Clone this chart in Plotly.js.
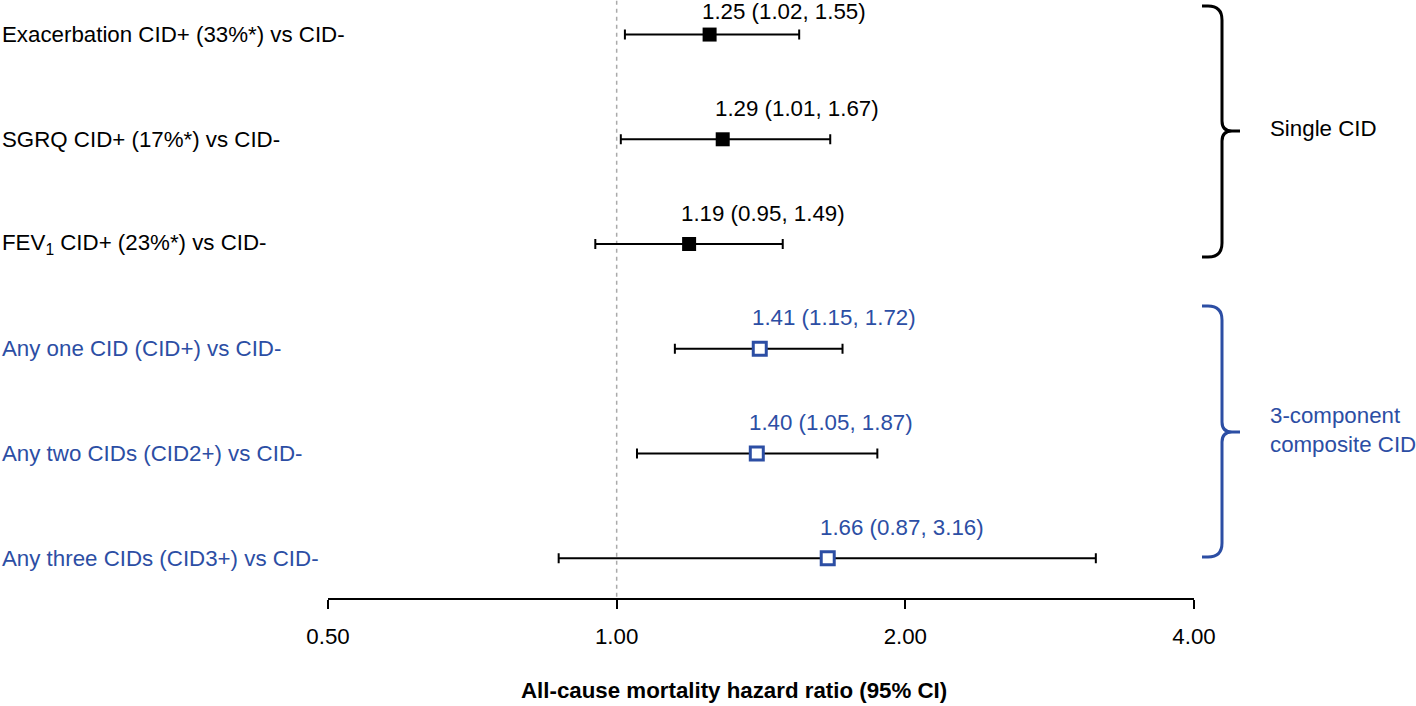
<!DOCTYPE html>
<html>
<head>
<meta charset="utf-8">
<script src="https://cdn.plot.ly/plotly-3.0.1.min.js"></script>
<style>html,body{margin:0;padding:0;background:#fff;}#chart{width:1416px;height:706px;}</style>
</head>
<body>
<div id="chart"></div>
<script>
var rowLabels = [
  'Exacerbation CID+ (33%*) vs CID-',
  'SGRQ CID+ (17%*) vs CID-',
  'FEV<sub>1</sub> CID+ (23%*) vs CID-',
  'Any one CID (CID+) vs CID-',
  'Any two CIDs (CID2+) vs CID-',
  'Any three CIDs (CID3+) vs CID-'
];
var hr   = [1.25, 1.29, 1.19, 1.41, 1.40, 1.66];
var ciLo = [1.02, 1.01, 0.95, 1.15, 1.05, 0.87];
var ciHi = [1.55, 1.67, 1.49, 1.72, 1.87, 3.16];
var group = ['single', 'single', 'single', 'composite', 'composite', 'composite'];
var tickVals = [0.5, 1, 2, 4];
var tickText = ['0.50', '1.00', '2.00', '4.00'];
var groupNames = {single: 'Single CID', composite: '3-component<br>composite CID'};

var BLUE = '#2c4ea4';
var FONT = '"Liberation Sans", Arial, Helvetica, sans-serif';
var FS = 22.3;
var W = 1416, H = 706, ML = 328, MR = 222, MT = 0, MB = 108;
var PW = W - ML - MR, PH = H - MT - MB;
var Y0 = -0.33, Y1 = 5.38;
function px(x) { return (x - ML) / PW; }
function py(y) { return (PH + MT - y) / PH; }
function rowPix(i) { return MT + (i - Y0) / (Y1 - Y0) * PH; }

var rows = hr.map(function(_, i) { return i; });
var idxS = rows.filter(function(i) { return group[i] === 'single'; });
var idxC = rows.filter(function(i) { return group[i] === 'composite'; });

function pick(arr, idx) { return idx.map(function(i) { return arr[i]; }); }

function makeTrace(idx, markerCfg) {
  return {
    type: 'scatter', mode: 'markers',
    x: pick(hr, idx), y: idx,
    error_x: {
      type: 'data', symmetric: false,
      array: idx.map(function(i) { return ciHi[i] - hr[i]; }),
      arrayminus: idx.map(function(i) { return hr[i] - ciLo[i]; }),
      color: '#000', thickness: 2, width: 5
    },
    marker: markerCfg,
    hoverinfo: 'skip', showlegend: false
  };
}

var traces = [
  {type: 'scatter', mode: 'lines', x: [1, 1], y: [-0.4, 5.5],
   line: {color: '#aaaaaa', width: 1.5, dash: '4px,4px'}, hoverinfo: 'skip', showlegend: false},
  makeTrace(idxS, {symbol: 'square', size: 14, color: '#000', line: {width: 0}}),
  makeTrace(idxC, {symbol: 'square', size: 13, color: '#fff', line: {color: BLUE, width: 3}})
];

var annotations = [];
rows.forEach(function(i) {
  var col = group[i] === 'single' ? '#000' : BLUE;
  annotations.push({
    xref: 'paper', yref: 'y', x: px(0), y: i, xanchor: 'left', yanchor: 'middle',
    text: rowLabels[i], showarrow: false, font: {family: FONT, size: FS, color: col}
  });
  var txt = hr[i].toFixed(2) + ' (' + ciLo[i].toFixed(2) + ', ' + ciHi[i].toFixed(2) + ')';
  annotations.push({
    xref: 'x', yref: 'y', x: Math.log10(hr[i]), y: i, xanchor: 'left', yanchor: 'middle',
    xshift: -10, yshift: Math.min(31, rowPix(i) - 12),
    text: txt, showarrow: false, font: {family: FONT, size: FS, color: col}
  });
});

annotations.push({
  xref: 'paper', yref: 'paper', x: 0.5, y: 0, xshift: -27, yshift: -92, xanchor: 'center', yanchor: 'middle',
  text: '<b>All-cause mortality hazard ratio (95% CI)</b>', showarrow: false,
  font: {family: FONT, size: FS, color: '#000'}
});

function bracePath(top, bot, mid) {
  var xt = 1202, xv = 1222, xp = 1240;
  function P(x, y) { return px(x) + ',' + py(y); }
  return 'M' + P(xt, top) + ' L' + P(xt + 6, top) + ' Q' + P(xv, top) + ' ' + P(xv, top + 14) +
    ' L' + P(xv, mid - 10) + ' Q' + P(xv, mid) + ' ' + P(xv + 10, mid) + ' L' + P(xp, mid) +
    ' M' + P(xv + 10, mid) + ' Q' + P(xv, mid) + ' ' + P(xv, mid + 10) +
    ' L' + P(xv, bot - 14) + ' Q' + P(xv, bot) + ' ' + P(xt + 6, bot) + ' L' + P(xt, bot);
}

var braces = [
  {top: 6, bot: 257, mid: 131, color: '#000', key: 'single'},
  {top: 306, bot: 557, mid: 432, color: BLUE, key: 'composite'}
];
var shapes = [];
braces.forEach(function(b) {
  shapes.push({type: 'path', xref: 'paper', yref: 'paper', path: bracePath(b.top, b.bot, b.mid),
    line: {color: b.color, width: 3}});
  annotations.push({
    xref: 'paper', yref: 'paper', x: px(1268), y: py(b.mid - 2), xanchor: 'left', yanchor: 'middle',
    align: 'left', text: groupNames[b.key], showarrow: false,
    font: {family: FONT, size: FS, color: b.color}
  });
});

var layout = {
  width: W, height: H,
  margin: {l: ML, r: MR, t: MT, b: MB, pad: 0},
  paper_bgcolor: '#fff', plot_bgcolor: '#fff',
  font: {family: FONT, size: FS, color: '#000'},
  xaxis: {
    type: 'log', range: [Math.log10(0.5), Math.log10(4)],
    tickvals: tickVals, ticktext: tickText,
    ticks: 'outside', ticklen: 9, tickwidth: 2, tickcolor: '#000',
    ticklabelstandoff: 8,
    showline: true, linewidth: 2, linecolor: '#000',
    showgrid: false, zeroline: false, fixedrange: true,
    tickfont: {family: FONT, size: FS, color: '#000'}
  },
  yaxis: {
    range: [Y1, Y0], visible: false, showgrid: false, zeroline: false, fixedrange: true
  },
  annotations: annotations,
  shapes: shapes
};

Plotly.newPlot('chart', traces, layout, {displayModeBar: false, staticPlot: true});
</script>
</body>
</html>
